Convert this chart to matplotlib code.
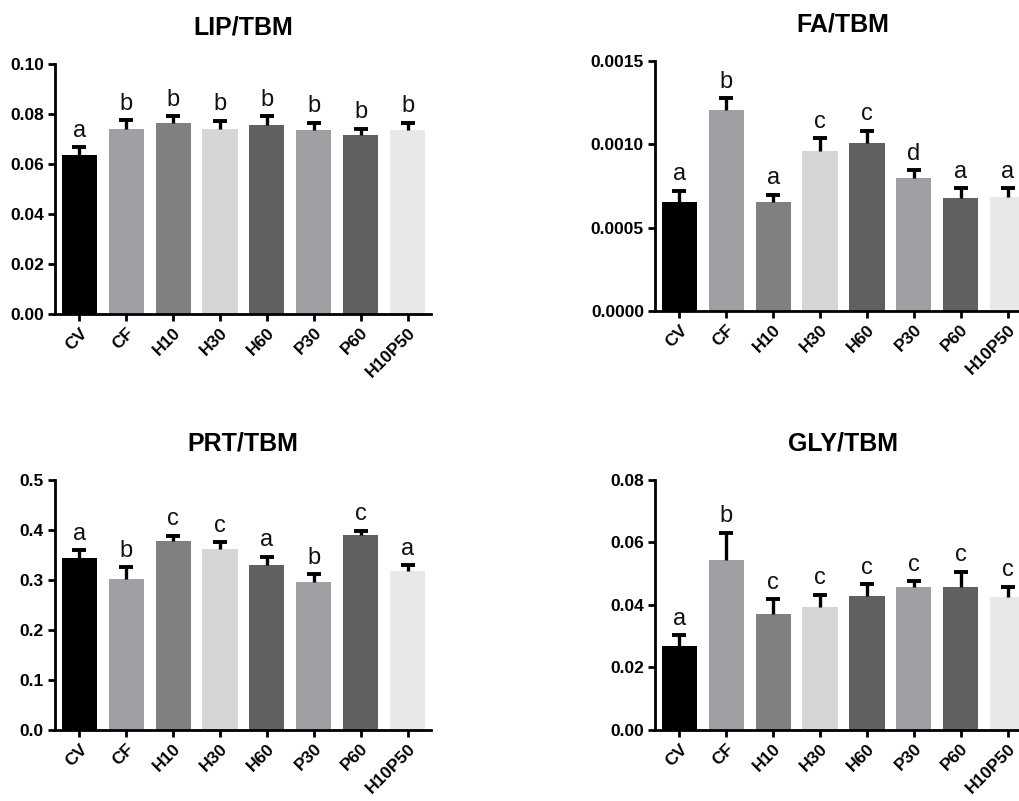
import matplotlib
matplotlib.use("Agg")
import matplotlib.pyplot as plt
from matplotlib.ticker import FormatStrFormatter, MultipleLocator

plt.rcParams['font.family'] = ['Liberation Sans', 'DejaVu Sans']

groups = ["CV", "CF", "H10", "H30", "H60", "P30", "P60", "H10P50"]
bar_colors = ["#000000", "#a0a0a4", "#808080", "#d6d6d6", "#606060", "#a0a0a4", "#606060", "#e8e8e8"]

lip_mean = [0.0637, 0.0740, 0.0765, 0.0738, 0.0756, 0.0737, 0.0716, 0.0737]
lip_err = [0.0029, 0.0034, 0.0025, 0.0035, 0.0034, 0.0028, 0.0024, 0.0027]
lip_letters = ["a", "b", "b", "b", "b", "b", "b", "b"]

fa_mean = [0.000656, 0.001208, 0.000652, 0.000958, 0.001010, 0.000796, 0.000680, 0.000686]
fa_err = [0.000064, 0.000068, 0.000046, 0.000078, 0.000070, 0.000048, 0.000056, 0.000050]
fa_letters = ["a", "b", "a", "c", "c", "d", "a", "a"]

prt_mean = [0.3447, 0.3027, 0.3773, 0.3627, 0.3293, 0.2953, 0.3890, 0.3187]
prt_err = [0.0143, 0.0223, 0.0107, 0.0123, 0.0174, 0.0157, 0.0097, 0.0103]
prt_letters = ["a", "b", "c", "c", "a", "b", "c", "a"]

gly_mean = [0.0270, 0.0545, 0.0372, 0.0394, 0.0428, 0.0459, 0.0456, 0.0426]
gly_err = [0.0033, 0.0086, 0.0046, 0.0038, 0.0039, 0.0017, 0.0051, 0.0033]
gly_letters = ["a", "b", "c", "c", "c", "c", "c", "c"]

panels = [
    ("LIP/TBM", lip_mean, lip_err, lip_letters, 0.10, 0.02, "%.2f", [0.05397, 0.6080, 0.3690, 0.3121]),
    ("FA/TBM", fa_mean, fa_err, fa_letters, 0.0015, 0.0005, "%.4f", [0.6428, 0.6117, 0.3690, 0.3121]),
    ("PRT/TBM", prt_mean, prt_err, prt_letters, 0.5, 0.1, "%.1f", [0.05397, 0.08865, 0.3690, 0.3121]),
    ("GLY/TBM", gly_mean, gly_err, gly_letters, 0.08, 0.02, "%.2f", [0.6428, 0.08865, 0.3690, 0.3121]),
]

fig = plt.figure(figsize=(10.19, 8.01), dpi=100)

for title, mean, err, letters, ymax, step, fmt, rect in panels:
    ax = fig.add_axes(rect)
    x = list(range(len(groups)))
    ax.bar(x, mean, width=0.75, color=bar_colors, edgecolor="none", zorder=2)
    eb = ax.errorbar(x, mean, yerr=[[0] * len(err), err], fmt="none", ecolor="black",
                     elinewidth=2.4, capsize=4.8, capthick=2.8, zorder=3)
    caps = eb[1]
    if len(caps) == 2:
        caps[0].set_visible(False)
    for xi, m, e, lab in zip(x, mean, err, letters):
        ax.annotate(lab, (xi, m + e), xytext=(0, 4), textcoords="offset points",
                    ha="center", va="bottom", fontsize=17, color="#111111")
    ax.set_xlim(-0.52, 7.5)
    ax.set_ylim(0, ymax)
    ax.yaxis.set_major_locator(MultipleLocator(step))
    ax.yaxis.set_major_formatter(FormatStrFormatter(fmt))
    ax.set_xticks(x)
    ax.set_xticklabels(groups, rotation=45, ha="right", va="top", rotation_mode="anchor",
                       fontsize=12.5, fontweight="bold")
    for lbl in ax.get_yticklabels():
        lbl.set_fontweight("bold")
        lbl.set_fontsize(12.5)
    ax.tick_params(axis="both", direction="out", length=5, width=2, color="black", pad=3)
    ax.tick_params(axis="x", pad=3)
    for side in ("top", "right"):
        ax.spines[side].set_visible(False)
    for side in ("left", "bottom"):
        ax.spines[side].set_linewidth(2)
    ax.set_title(title, fontsize=18, fontweight="bold", pad=21)

fig.savefig("out.png", dpi=100)
